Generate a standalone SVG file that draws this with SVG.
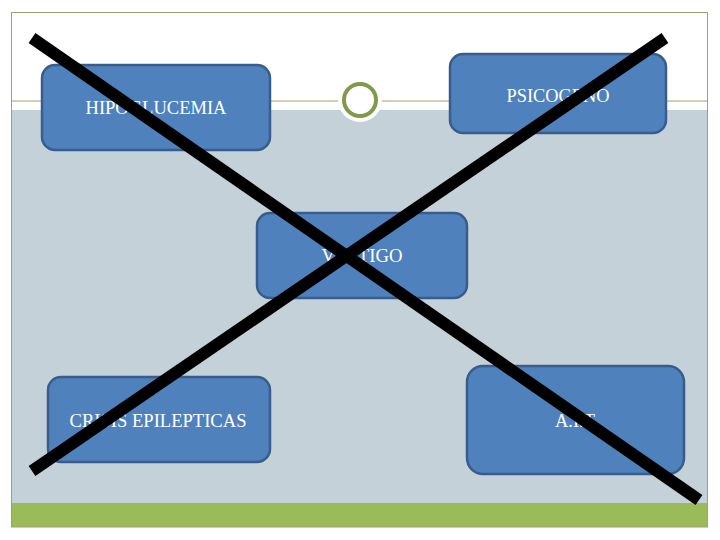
<svg xmlns="http://www.w3.org/2000/svg" width="720" height="540" viewBox="0 0 720 540">
<style>
.box{fill:#4F81BD;stroke:#385D8A;stroke-width:2.5}
.lbl{font-family:"Liberation Serif",serif;font-size:18px;fill:#fff;text-anchor:middle;lengthAdjust:spacingAndGlyphs}
.x{stroke:#000;stroke-width:12;stroke-linecap:butt}
</style>
<rect x="0" y="0" width="720" height="540" fill="#fff"/>
<rect x="11.5" y="110" width="696" height="393" fill="#C5D1D8"/>
<rect x="11.5" y="503" width="696" height="24" fill="#9BBB59"/>
<rect x="11.5" y="12.5" width="696" height="514.5" fill="none" stroke="#A0A070" stroke-width="1"/>
<line x1="11.5" y1="101" x2="340" y2="101" stroke="#A0A070" stroke-width="1"/>
<line x1="380" y1="101" x2="707.5" y2="101" stroke="#A0A070" stroke-width="1"/>
<circle cx="360" cy="100" r="22" fill="#fff"/>
<circle cx="360" cy="100" r="16" fill="#fff" stroke="#7F9A48" stroke-width="4"/>
<g id="hipoglucemia"><rect class="box" x="42" y="65" width="228" height="85" rx="13"/><text class="lbl" x="156" y="114" textLength="141" lengthAdjust="spacingAndGlyphs">HIPOGLUCEMIA</text></g>
<g id="psicogeno"><rect class="box" x="450" y="54" width="216" height="79" rx="13"/><text class="lbl" x="558" y="102" textLength="103" lengthAdjust="spacingAndGlyphs">PSICOGENO</text></g>
<g id="vertigo"><rect class="box" x="257" y="213" width="210" height="85" rx="13"/><text class="lbl" x="362" y="262" textLength="81" lengthAdjust="spacingAndGlyphs">VERTIGO</text></g>
<g id="crisis"><rect class="box" x="48" y="377" width="222" height="85" rx="13"/><text class="lbl" x="158" y="427" textLength="177" lengthAdjust="spacingAndGlyphs">CRISIS EPILEPTICAS</text></g>
<g id="ait"><rect class="box" x="467" y="366" width="217" height="108" rx="16"/><text class="lbl" x="575" y="427" textLength="40" lengthAdjust="spacingAndGlyphs">A.I.T</text></g>
<g id="connectors">
<line class="x" x1="32" y1="38" x2="699" y2="500"/>
<line class="x" x1="665" y1="38" x2="32" y2="471"/>
</g>
</svg>
